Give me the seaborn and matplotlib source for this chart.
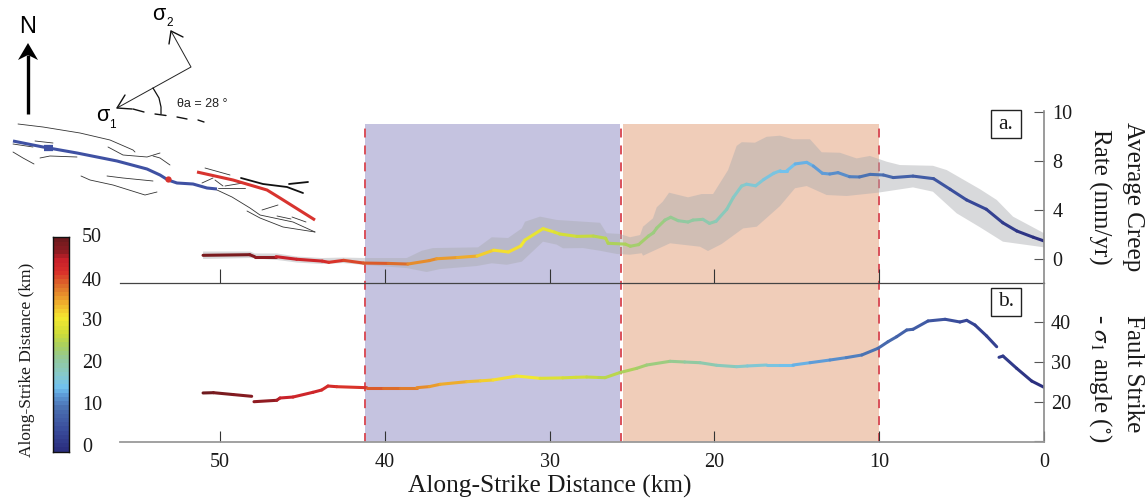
import numpy as np
import pandas as pd
import seaborn as sns
import matplotlib.pyplot as plt
from matplotlib.colors import LinearSegmentedColormap, Normalize
from matplotlib.patches import Rectangle, Polygon

# ---------- creep rate (panel a) ----------
creep_km = [51.03, 48.2, 47.9, 46.6, 45.35, 43.8, 43.4, 42.5, 41.3, 39.8, 38.6, 37.3, 36.85, 35.6, 34.4, 33.4,
            32.5, 31.75, 31.5, 30.4, 29.7, 29.4, 28.35, 27.35, 26.6, 26.45, 25.4, 25.1, 24.6, 24.0, 23.7, 23.5,
            23.0, 22.65, 22.2, 21.6, 21.3, 20.7, 20.3, 19.9, 19.25, 18.85, 18.35, 18.05, 17.5, 17.0, 16.4, 16.0,
            15.6, 15.1, 14.4, 14.0, 13.45, 13.0, 12.5, 11.8, 11.2, 10.55, 9.75, 9.15, 7.95, 6.7, 5.7, 4.7, 3.5,
            2.5, 1.65, 0.65, 0.0]
creep_rate = [0.30, 0.35, 0.19, 0.19, -0.02, -0.17, -0.27, -0.11, -0.33, -0.36, -0.41, -0.13, 0.02, 0.12, 0.24, 0.72,
              0.57, 1.06, 1.54, 2.47, 2.19, 2.04, 1.84, 1.87, 1.69, 1.28, 1.21, 1.04, 1.17, 1.87, 2.14, 2.52,
              3.17, 3.40, 3.12, 3.01, 3.17, 3.23, 2.90, 3.07, 4.05, 5.02, 5.94, 6.09, 5.96, 6.48, 6.98, 7.19,
              7.19, 7.74, 7.87, 7.57, 6.98, 6.92, 7.03, 6.70, 6.68, 6.89, 6.84, 6.63, 6.75, 6.54, 5.68, 4.81, 4.05,
              2.95, 2.28, 1.77, 1.47]
upper_km = [51.03, 48.18, 47.88, 46.54, 45.33, 43.81, 42.54, 41.2, 38.67, 37.76, 37.08, 34.34, 33.51, 32.52, 31.69,
            31.49, 30.58, 29.57, 26.94, 26.54, 25.73, 25.12, 24.51, 24.33, 23.73, 23.5, 23.14, 22.75, 21.6, 20.77,
            20.08, 19.17, 18.65, 18.34, 17.54, 16.83, 16.02, 15.23, 14.2, 13.49, 12.38, 11.37, 10.56, 9.54, 8.74,
            6.74, 5.9, 3.88, 2.87, 1.88, 0.0]
upper_rate = [0.61, 0.61, 0.45, 0.45, 0.20, 0.08, 0.12, 0.08, 0.08, 0.67, 0.89, 0.95, 1.77, 1.71, 2.49,
              3.04, 3.45, 3.18, 2.95, 2.10, 2.04, 1.77, 1.95, 2.63, 3.31, 4.21, 4.66, 5.40, 5.02, 5.29,
              5.29, 7.24, 9.21, 9.51, 9.47, 9.95, 10.04, 9.75, 9.75, 8.69, 8.65, 8.19, 8.39, 7.92, 7.65,
              7.59, 7.24, 5.68, 4.81, 3.45, 2.10]
lower_km = [51.03, 48.18, 46.54, 45.33, 43.81, 42.54, 41.2, 38.67, 37.46, 36.65, 34.42, 33.51, 32.6, 31.69, 30.4,
            29.57, 29.19, 27.97, 26.94, 25.93, 25.12, 24.41, 24.33, 22.69, 20.87, 20.39, 19.56, 18.26, 17.43, 16.02,
            15.11, 14.4, 13.19, 11.97, 10.07, 7.95, 6.74, 5.3, 3.88, 2.49, 0.0]
lower_rate = [0.0, 0.08, -0.08, -0.29, -0.41, -0.33, -0.49, -0.74, -1.06, -0.82, -0.57, -0.35, -0.47, -0.22, 1.41,
              1.17, 0.87, 0.89, 0.67, 0.41, 0.35, 0.47, 0.27, 1.28, 1.00, 0.65, 1.22, 2.49, 2.63, 4.31,
              5.76, 5.94, 5.21, 5.13, 5.40, 5.83, 5.48, 3.72, 2.58, 1.41, 0.95]

# ---------- strike angle (panel b), nan = break in the trace ----------
strike_km = [51.03, 50.4, 49.2, 48.08, np.nan, 47.94, 46.56, 46.36, 45.57, 44.36, 43.83, 43.45, 42.92, 41.1, 40.1,
             39.08, 38.06, 37.3, 36.65, 35.03, 34.2, 33.43, 32.0, 30.58, 29.2, 28.4, 27.75, 27.0, 26.64, 25.73,
             24.71, 24.11, 22.69, 21.8, 20.87, 19.86, 18.65, 18.0, 16.83, 16.0, 15.23, 14.2, 12.99, 12.0, 11.06,
             10.07, 9.47, 8.94, 8.33, 7.95, 7.04, 6.0, 5.1, 4.69, 4.19, 3.48, 2.87, np.nan, 2.73, 2.49, 1.66, 0.75,
             0.0]
strike_angle = [22.2, 22.27, 21.8, 21.36, np.nan, 20.0, 20.35, 20.93, 21.18, 22.37, 22.95, 23.95, 23.78, 23.53, 23.53,
                23.53, 23.53, 23.8, 24.38, 25.04, 25.25, 25.47, 26.47, 25.89, 26.0, 26.15, 26.22, 26.1, 26.05, 27.35,
                28.41, 29.24, 30.18, 30.0, 29.82, 29.17, 28.82, 29.0, 29.24, 29.24, 29.24, 29.82, 30.5, 31.1, 31.76,
                33.45, 35.1, 36.37, 38.06, 38.24, 40.33, 40.76, 40.08, 40.5, 39.32, 36.55, 33.85, np.nan, 31.18, 31.5,
                28.41, 25.21, 23.63]

x_ticks = [50, 40, 30, 20, 10, 0]
# the top tick sits one even step above 8 but is labelled 10 in the figure
creep_ticks = [0, 4, 8, 12]
creep_tick_labels = ['0', '4', '8', '10']
strike_ticks = [10, 20, 30, 40]
strike_tick_labels = ['', '20', '30', '40']
cbar_ticks = [0, 10, 20, 30, 40, 50]

slow_zone = (41.2, 25.75)
fast_zone = (25.55, 10.0)
zone_edges = [41.2, 25.65, 10.0]

# colour scale
cmap_stops = [0, 5, 10, 13, 15, 18, 22, 25, 28, 32, 36, 40, 43, 46, 48, 51]
cmap_colors = ['#2b2f7f', '#3a4d9c', '#4a6fb0', '#5b97d4', '#70c0ef', '#86c9cd', '#93c99a', '#a7cf63',
               '#cddc39', '#f5e92f', '#eda72c', '#dc6a2a', '#d9302a', '#c8202a', '#8e1c22', '#6f1a1e']

# ---------- map traces, pixel positions on the page ----------
fault_thin = [
    ([18, 43, 80, 110, 133, 135], [124, 127, 133, 140, 150, 152]),
    ([108, 123, 147, 160], [147, 155, 157, 153]),
    ([153, 160, 170], [156, 158, 165]),
    ([13, 23, 34], [152, 158, 164]),
    ([40, 50, 77], [158, 156, 157]),
    ([35, 53], [141, 143]),
    ([13, 33], [144, 147]),
    ([81, 90, 113, 145, 157], [176, 180, 185, 195, 192]),
    ([107, 123, 153], [176, 178, 181]),
    ([205, 230], [168, 175]),
    ([202, 213], [183, 178]),
    ([215, 223], [180, 186]),
    ([218, 245], [188, 188]),
    ([225, 243], [186, 183]),
    ([217, 232, 250, 260, 293, 315], [190, 197, 208, 215, 222, 232]),
    ([247, 260, 283, 315], [211, 218, 227, 232]),
    ([262, 278], [210, 205]),
    ([277, 291], [216, 219]),
    ([292, 306], [217, 222]),
]
fault_black = [([241, 263, 287, 303], [178, 184, 187, 193]), ([289, 308], [184, 182])]
fault_blue_x = [13, 43, 77, 117, 147, 160, 168, 177, 193, 207, 217]
fault_blue_y = [141, 147, 153, 161, 169, 175, 180, 183, 184, 188, 189]
fault_red_x = [197, 233, 267, 280, 315]
fault_red_y = [172, 180, 190, 198, 220]


def colored_line(ax, km, vals, cmap, norm, lw):
    # one short line per pair of readings, coloured by distance
    rows = []
    colors = {}
    for i in range(len(km) - 1):
        if np.isnan(km[i]) or np.isnan(km[i + 1]):
            continue
        rows.append((km[i], vals[i], i))
        rows.append((km[i + 1], vals[i + 1], i))
        colors[i] = cmap(norm((km[i] + km[i + 1]) / 2))
    df = pd.DataFrame(rows, columns=['km', 'val', 'seg'])
    sns.lineplot(data=df, x='km', y='val', hue='seg', palette=colors, estimator=None, sort=False,
                 errorbar=None, legend=False, linewidth=lw, solid_capstyle='round', ax=ax)


def px_axes(fig, left, top, right, bottom, **kw):
    W, H = 1146.0, 501.0
    return fig.add_axes([left / W, 1 - bottom / H, (right - left) / W, (bottom - top) / H], **kw)


def main():
    sns.set_theme(style='white')
    plt.rcParams['font.family'] = ['Liberation Serif', 'DejaVu Serif']
    plt.rcParams['mathtext.fontset'] = 'stix'
    text_col = '#1a1a1a'

    fig = plt.figure(figsize=(11.46, 5.01), dpi=100)
    stops = [s / cmap_stops[-1] for s in cmap_stops]
    cmap = LinearSegmentedColormap.from_list('along', list(zip(stops, cmap_colors)), N=51)
    norm = Normalize(0, 51)
    xlim = (56.07, 0)

    # shaded zones
    bg = px_axes(fig, 120, 123.5, 1044, 442, zorder=0)
    bg.axvspan(slow_zone[0], slow_zone[1], color='#c5c3e0', lw=0)
    bg.axvspan(fast_zone[0], fast_zone[1], color='#f0cdb9', lw=0)
    for edge in zone_edges:
        bg.axvline(edge, color='#d9505a', lw=1.4, linestyle=(0, (4.6, 4.1)))
    bg.set_xlim(xlim)
    bg.set_ylim(0, 1)
    bg.axis('off')

    # panel a
    ax_a = px_axes(fig, 120, 111, 1044, 283, zorder=1)
    ax_a.patch.set_alpha(0)
    ax_a.fill(upper_km + lower_km[::-1], upper_rate + lower_rate[::-1], color='#aaacb0', alpha=0.45, lw=0)
    colored_line(ax_a, creep_km, creep_rate, cmap, norm, 2.2)
    ax_a.set_xlim(xlim)
    ax_a.set_ylim(-1.954, 12.05)
    ax_a.set_xticks(x_ticks[:-1])
    ax_a.set_yticks(creep_ticks)
    ax_a.set_yticklabels(creep_tick_labels)
    ax_a.set_xlabel('')
    ax_a.set_ylabel('')
    ax_a.tick_params(axis='x', direction='in', length=10, width=0.8, color='#333333', labelbottom=False, bottom=True)
    ax_a.yaxis.tick_right()
    ax_a.tick_params(axis='y', direction='in', length=7, width=0.8, color='#555555', right=True, pad=6,
                     labelsize=14.5, labelcolor=text_col)
    for side in ['top', 'left']:
        ax_a.spines[side].set_visible(False)
    ax_a.spines['bottom'].set_color('#444444')
    ax_a.spines['bottom'].set_linewidth(0.9)
    ax_a.spines['right'].set_color('#8a8a8a')
    ax_a.spines['right'].set_linewidth(1.2)

    # panel b
    ax_b = px_axes(fig, 120, 283, 1044, 442, zorder=1)
    ax_b.patch.set_alpha(0)
    colored_line(ax_b, strike_km, strike_angle, cmap, norm, 2.2)
    ax_b.set_xlim(xlim)
    ax_b.set_ylim(9.85, 49.9)
    ax_b.set_xticks(x_ticks)
    ax_b.set_yticks(strike_ticks)
    ax_b.set_yticklabels(strike_tick_labels)
    ax_b.set_xlabel('')
    ax_b.set_ylabel('')
    ax_b.tick_params(axis='x', direction='in', length=8, width=0.8, color='#333333', bottom=True, pad=8,
                     labelsize=14.5, labelcolor=text_col)
    ax_b.yaxis.tick_right()
    ax_b.tick_params(axis='y', direction='in', length=7, width=0.8, color='#555555', right=True, pad=5,
                     labelsize=14.5, labelcolor=text_col)
    for side in ['top', 'left']:
        ax_b.spines[side].set_visible(False)
    ax_b.spines['bottom'].set_color('#9a9a9a')
    ax_b.spines['bottom'].set_linewidth(1.3)
    ax_b.spines['right'].set_color('#8a8a8a')
    ax_b.spines['right'].set_linewidth(1.2)

    # colour bar
    cax = px_axes(fig, 52.5, 237.3, 68.7, 451.7, zorder=2)
    cells = np.arange(51, 0, -1).reshape(-1, 1) - 0.5
    sns.heatmap(cells, cmap=cmap, vmin=0, vmax=51, cbar=False, xticklabels=False, yticklabels=False, ax=cax)
    for sp in cax.spines.values():
        sp.set_visible(True)
        sp.set_color('#111111')
        sp.set_linewidth(1.0)

    # everything placed by page position
    ov = px_axes(fig, 0, 0, 1146, 501, zorder=5)
    ov.patch.set_alpha(0)
    ov.set_xlim(0, 1146)
    ov.set_ylim(501, 0)
    ov.axis('off')

    for tick, y in zip(cbar_ticks, [447, 405, 364, 322, 281, 238]):
        ov.text(82, y, str(tick), fontsize=14.5, color=text_col, ha='left', va='center')
    ov.text(27, 360, 'Along-Strike Distance (km)', fontsize=12.5, color=text_col, rotation=90, ha='center', va='center')

    ov.text(550, 486, 'Along-Strike Distance (km)', fontsize=18.3, color=text_col, ha='center', va='center')
    ov.text(1133, 197, 'Average Creep', fontsize=18, color=text_col, rotation=270, ha='center', va='center')
    ov.text(1100, 197, 'Rate (mm/yr)', fontsize=18, color=text_col, rotation=270, ha='center', va='center')
    ov.text(1133, 374, 'Fault Strike', fontsize=18, color=text_col, rotation=270, ha='center', va='center')
    ov.text(1100, 378, r'- $\sigma_{1}$ angle ($^{\circ}$)', fontsize=18, color=text_col, rotation=270,
            ha='center', va='center')

    for label, y0 in [('a.', 110), ('b.', 288)]:
        ov.add_patch(Rectangle((991, y0), 30, 28, fc='white', ec='#222222', lw=1.0))
        ov.text(1006, y0 + 14, label, fontsize=15.5, color=text_col, ha='center', va='center')

    # map
    for xs, ys in fault_thin:
        ov.plot(xs, ys, color='#333333', lw=0.6)
    for xs, ys in fault_black:
        ov.plot(xs, ys, color='#111111', lw=1.3)
    ov.plot(fault_blue_x, fault_blue_y, color='#3f51a3', lw=2.2, solid_capstyle='butt')
    ov.plot([44, 53], [148, 148], color='#3f51a3', lw=4.5, solid_capstyle='butt')
    ov.plot(fault_red_x, fault_red_y, color='#d8342f', lw=2.2, solid_capstyle='butt')
    ov.plot([168], [179], 'o', color='#d8342f', ms=4.5, mew=0)

    # north arrow
    ov.plot([28, 28], [114, 55], color='black', lw=2.4, solid_capstyle='butt')
    ov.add_patch(Polygon([(28, 43), (38, 60), (28, 55), (18, 60)], closed=True, fc='black', ec='none'))
    ov.text(28, 27, 'N', family='Liberation Sans', fontsize=17, color='black', ha='center', va='center')

    # stress axes
    ov.plot([171, 191, 117], [31, 67, 108], color='#222222', lw=0.7)
    ov.plot([169, 171, 183], [44, 31, 37], color='#111111', lw=1.0)
    ov.plot([125, 117, 132], [95, 108, 109], color='#111111', lw=1.0)
    for xs, ys in [([133, 144], [109, 112]), ([155, 166], [114, 115.5]), ([177, 187], [117, 119]), ([198, 204], [120, 122])]:
        ov.plot(xs, ys, color='#111111', lw=1.0)
    ov.plot([153, 159, 161, 161], [88, 98, 107, 114], color='#111111', lw=0.9)
    ov.text(159, 14, '\u03c3', family='Liberation Sans', fontsize=15.5, color='black', ha='center', va='center')
    ov.text(166, 23, '2', family='Liberation Sans', fontsize=8.5, color='black', ha='left', va='center')
    ov.text(103, 115, '\u03c3', family='Liberation Sans', fontsize=15.5, color='black', ha='center', va='center')
    ov.text(109, 125, '1', family='Liberation Sans', fontsize=8.5, color='black', ha='left', va='center')
    ov.text(177, 104, '\u03b8a = 28 \u00b0', family='Liberation Sans', fontsize=9, color='#222222', ha='left', va='center')

    fig.savefig('out.png', dpi=100)


if __name__ == '__main__':
    main()
